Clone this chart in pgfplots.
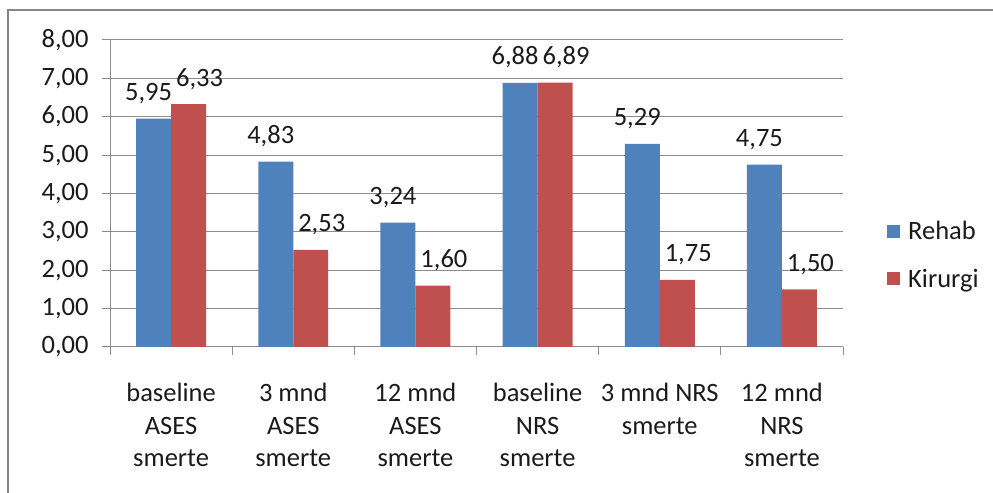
\documentclass[border=0pt]{standalone}
\usepackage{fontspec}
\setmainfont{Carlito}
\usepackage{pgfplots}
\pgfplotsset{compat=1.18}
\definecolor{rehab}{HTML}{4F81BD}
\definecolor{kir}{HTML}{C0504D}
\definecolor{gridc}{HTML}{8C8C8C}
\definecolor{framec}{HTML}{868686}
\definecolor{txt}{HTML}{1A1A1A}
\begin{document}
\begin{tikzpicture}[x=1bp,y=1bp]
\path[use as bounding box] (0,0) rectangle (993,493);
\draw[line width=1.5bp, color=framec] (8,-30) rectangle (1020,483);
\begin{axis}[
  at={(110bp,146bp)}, anchor=south west,
  scale only axis, width=733bp, height=307bp,
  xmin=-0.5, xmax=5.5, ymin=0, ymax=8,
  ybar=0pt, bar width=0.2864,
  axis x line=bottom, axis y line=left,
  axis line style={-, draw=gridc, line width=1bp},
  ytick={0,1,...,8},
  ymajorgrids, grid style={draw=gridc, line width=1bp},
  tick align=outside,
  major tick length=8bp, minor tick length=8bp,
  ytick style={draw=gridc, line width=1bp},
  major x tick style={draw=none},
  minor x tick style={draw=gridc, line width=1bp},
  xtick={0,1,2,3,4,5},
  minor xtick={-0.5,0.5,1.5,2.5,3.5,4.5,5.5},
  xticklabels={{baseline\\ASES\\smerte},{3 mnd\\ASES\\smerte},{12 mnd\\ASES\\smerte},{baseline\\NRS\\smerte},{3 mnd NRS\\smerte},{12 mnd\\NRS\\smerte}},
  xticklabel style={font=\fontsize{26.5bp}{32.5bp}\selectfont, align=center, yshift=-25bp, text=txt},
  yticklabel style={font=\fontsize{26.5bp}{30bp}\selectfont, xshift=-10bp, text=txt},
  /pgf/number format/assume math mode=true,
  yticklabel={\pgfmathprintnumber[fixed,fixed zerofill,precision=2,use comma,assume math mode=true]{\tick}},
  nodes near coords={\pgfmathprintnumber[fixed,fixed zerofill,precision=2,use comma,assume math mode=true]{\pgfplotspointmeta}},
  nodes near coords style={font=\fontsize{26.5bp}{30bp}\selectfont, anchor=base, yshift=18bp, text=txt},
  legend style={at={(1.06,0.30)}, anchor=west, draw=none, fill=none,
    font=\fontsize{26.5bp}{30bp}\selectfont, row sep=24bp, inner sep=0pt,
    nodes={inner xsep=8bp, text=txt}},
  legend cell align=left,
]
\addplot[fill=rehab, draw=none, nodes near coords style={xshift=-5bp},
  legend image code/.code={\fill[rehab] (0bp,-6.5bp) rectangle (13bp,6.5bp);}]
  coordinates {(0,5.95) (1,4.83) (2,3.24) (3,6.88) (4,5.29) (5,4.75)};
\addplot[fill=kir, draw=none, nodes near coords style={xshift=11bp},
  legend image code/.code={\fill[kir] (0bp,-6.5bp) rectangle (13bp,6.5bp);}]
  coordinates {(0,6.33) (1,2.53) (2,1.60) (3,6.89) (4,1.75) (5,1.50)};
\legend{Rehab,Kirurgi}
\end{axis}
\end{tikzpicture}
\end{document}
